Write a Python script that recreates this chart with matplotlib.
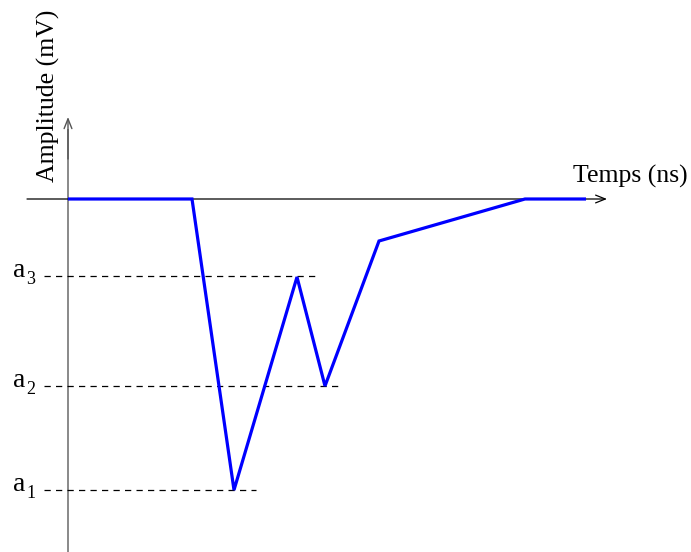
import matplotlib
matplotlib.use("Agg")
import matplotlib.pyplot as plt

# Pulse shape: time (ns) and amplitude (mV), arbitrary schematic units
time_ns = [0, 12.4, 16.6, 22.9, 25.7, 31.1, 45.7, 51.8]
amplitude_mv = [0, 0, -29.1, -7.8, -18.7, -4.2, 0, 0]

# Marked amplitude levels and how far their guide lines run
level_index = ["1", "2", "3"]
level_values = [-29.1, -18.7, -7.7]
level_ends = [18.8, 27.0, 25.0]

serif = "Liberation Serif"
fs = 18.5

fig = plt.figure(figsize=(6.91, 5.52), dpi=100)
ax = fig.add_axes([0, 0, 1, 1])
ax.set_xlim(-6.8, 62.3)
ax.set_ylim(-35.3, 19.9)
ax.axis("off")

# Vertical (amplitude) axis
ax.plot([0, 0], [-35.3, 7.0], color="#808080", lw=1.3, solid_capstyle="butt")
ax.annotate("", xy=(0, 8.2), xytext=(0, 4.0),
            arrowprops=dict(arrowstyle="->,head_length=0.7,head_width=0.28",
                            color="#555555", lw=1.0, mutation_scale=10,
                            shrinkA=0, shrinkB=0))

# Horizontal (time) axis
ax.annotate("", xy=(53.9, 0), xytext=(-4.1, 0),
            arrowprops=dict(arrowstyle="->,head_length=0.7,head_width=0.28",
                            color="black", lw=0.9, mutation_scale=10,
                            shrinkA=0, shrinkB=0))

# Guide lines for the marked levels, labelled a with an index
for idx, val, end in zip(level_index, level_values, level_ends):
    ax.plot([-2.4, end], [val, val], color="black", lw=0.9,
            dashes=(5, 4.2))
    ax.text(-5.55, val - 0.1, "a", fontsize=20, family=serif,
            ha="left", va="baseline")
    ax.text(-4.2, val - 0.85, idx, fontsize=13, family=serif,
            ha="left", va="baseline")

# Pulse
ax.plot(time_ns, amplitude_mv, color="#0000ff", lw=2.3,
        solid_joinstyle="miter", solid_capstyle="butt", zorder=5)

ax.text(50.5, 1.6, "Temps (ns)", fontsize=fs, family=serif,
        ha="left", va="baseline")
ax.text(-2.0, 10.3, "Amplitude (mV)", fontsize=fs, family=serif,
        rotation=90, ha="center", va="center")

fig.savefig("out.png", dpi=100)
